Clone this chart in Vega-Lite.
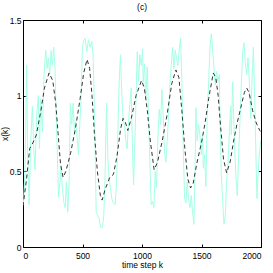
{
  "$schema": "https://vega.github.io/schema/vega-lite/v6.json",
  "autosize": {"type": "none"},
  "width": 238,
  "height": 227,
  "padding": {"left": 23, "top": 20, "right": 12, "bottom": 26},
  "background": "white",
  "title": {"text": "(c)", "fontSize": 8.5, "fontWeight": "normal", "font": "Liberation Sans", "anchor": "middle", "offset": 5, "color": "#000"},
  "config": {
    "view": {"stroke": "#000", "strokeWidth": 1},
    "axis": {"grid": false, "domain": false, "ticks": true, "tickSize": -3, "tickColor": "#000", "labelFont": "Liberation Sans", "labelFontSize": 8.5, "labelColor": "#000", "titleFont": "Liberation Sans", "titleFontSize": 8.5, "titleFontWeight": "normal", "titleColor": "#000"}
  },
  "datasets": {
    "noisy": [
      {"k":3,"v":0.28},{"k":17,"v":0.50},{"k":31,"v":1.20},{"k":39,"v":0.61},{"k":51,"v":0.28},{"k":65,"v":0.70},{"k":79,"v":0.93},{"k":90,"v":0.65},{"k":101,"v":0.51},{"k":115,"v":0.87},{"k":129,"v":1.00},{"k":138,"v":0.65},{"k":149,"v":0.98},{"k":163,"v":0.76},{"k":177,"v":1.14},{"k":191,"v":1.30},{"k":202,"v":1.18},{"k":213,"v":1.25},{"k":224,"v":1.14},{"k":236,"v":1.30},{"k":247,"v":1.20},{"k":258,"v":1.32},{"k":269,"v":1.18},{"k":278,"v":0.89},{"k":289,"v":0.61},{"k":298,"v":0.33},{"k":311,"v":0.43},{"k":320,"v":0.54},{"k":331,"v":0.39},{"k":342,"v":0.30},{"k":354,"v":0.26},{"k":365,"v":0.43},{"k":376,"v":0.23},{"k":387,"v":0.41},{"k":398,"v":0.95},{"k":410,"v":0.81},{"k":421,"v":0.95},{"k":432,"v":0.77},{"k":443,"v":0.83},{"k":455,"v":0.72},{"k":466,"v":0.61},{"k":477,"v":0.81},{"k":488,"v":0.98},{"k":499,"v":1.31},{"k":508,"v":1.36},
      {"k":522,"v":1.38},{"k":536,"v":1.29},{"k":550,"v":1.37},{"k":564,"v":1.32},{"k":578,"v":1.36},{"k":589,"v":1.27},{"k":598,"v":0.98},{"k":606,"v":0.65},{"k":615,"v":0.23},{"k":626,"v":0.21},{"k":640,"v":0.19},{"k":651,"v":0.13},{"k":668,"v":0.13},{"k":679,"v":0.21},{"k":690,"v":0.48},{"k":702,"v":0.95},{"k":713,"v":0.59},{"k":724,"v":0.45},{"k":735,"v":0.39},{"k":746,"v":0.32},{"k":760,"v":0.29},{"k":775,"v":0.28},{"k":786,"v":0.43},{"k":797,"v":0.74},{"k":808,"v":1.09},{"k":819,"v":1.27},{"k":831,"v":1.00},{"k":842,"v":0.83},{"k":853,"v":0.81},{"k":864,"v":0.70},{"k":875,"v":0.65},{"k":887,"v":0.83},{"k":898,"v":0.94},{"k":909,"v":1.05},{"k":920,"v":0.65},{"k":929,"v":0.41},{"k":937,"v":0.61},{"k":948,"v":0.92},{"k":960,"v":1.29},{"k":971,"v":1.09},{"k":982,"v":1.27},{"k":993,"v":1.20},{"k":1005,"v":1.31},
      {"k":1010,"v":1.09},{"k":1021,"v":1.21},{"k":1032,"v":0.98},{"k":1044,"v":1.19},{"k":1055,"v":0.87},{"k":1066,"v":0.56},{"k":1077,"v":0.28},{"k":1088,"v":0.30},{"k":1100,"v":0.26},{"k":1111,"v":0.50},{"k":1122,"v":0.39},{"k":1133,"v":0.70},{"k":1145,"v":0.91},{"k":1156,"v":0.81},{"k":1167,"v":1.04},{"k":1178,"v":0.87},{"k":1189,"v":0.63},{"k":1201,"v":0.56},{"k":1212,"v":0.70},{"k":1223,"v":0.87},{"k":1234,"v":1.07},{"k":1246,"v":1.20},{"k":1257,"v":1.32},{"k":1268,"v":1.18},{"k":1279,"v":1.30},{"k":1290,"v":1.25},{"k":1302,"v":1.20},{"k":1313,"v":1.31},{"k":1324,"v":1.38},{"k":1335,"v":1.09},{"k":1347,"v":0.65},{"k":1358,"v":0.32},{"k":1369,"v":0.29},{"k":1380,"v":0.43},{"k":1391,"v":0.32},{"k":1403,"v":0.26},{"k":1414,"v":0.34},{"k":1425,"v":0.23},{"k":1436,"v":0.15},{"k":1447,"v":0.56},{"k":1453,"v":0.92},{"k":1464,"v":0.70},{"k":1475,"v":0.81},{"k":1487,"v":0.74},{"k":1498,"v":0.61},{"k":1509,"v":0.74},
      {"k":1515,"v":0.52},{"k":1526,"v":0.61},{"k":1537,"v":0.40},{"k":1548,"v":0.87},{"k":1560,"v":1.09},{"k":1571,"v":1.31},{"k":1582,"v":1.41},{"k":1593,"v":1.31},{"k":1605,"v":1.18},{"k":1616,"v":1.07},{"k":1627,"v":1.16},{"k":1638,"v":1.09},{"k":1649,"v":1.14},{"k":1658,"v":0.76},{"k":1666,"v":0.48},{"k":1678,"v":0.30},{"k":1689,"v":0.15},{"k":1700,"v":0.21},{"k":1711,"v":0.43},{"k":1722,"v":0.54},{"k":1734,"v":0.76},{"k":1745,"v":0.93},{"k":1750,"v":0.74},{"k":1762,"v":1.09},{"k":1770,"v":0.87},{"k":1778,"v":0.67},{"k":1790,"v":0.45},{"k":1801,"v":0.34},{"k":1812,"v":0.61},{"k":1823,"v":0.83},{"k":1835,"v":1.09},{"k":1846,"v":1.29},{"k":1857,"v":1.35},{"k":1868,"v":1.22},{"k":1880,"v":1.14},{"k":1891,"v":1.25},{"k":1902,"v":1.09},{"k":1913,"v":0.85},{"k":1924,"v":1.09},{"k":1936,"v":1.32},{"k":1947,"v":0.98},{"k":1958,"v":0.59},{"k":1966,"v":0.32},{"k":1975,"v":0.48},{"k":1986,"v":0.61},{"k":1997,"v":0.70}
    ],
    "smooth": [
      {"k":0,"v":0.27},{"k":30,"v":0.45},{"k":56,"v":0.65},{"k":84,"v":0.69},{"k":112,"v":0.74},{"k":150,"v":0.90},{"k":180,"v":1.05},{"k":219,"v":1.15},{"k":250,"v":1.10},{"k":275,"v":0.95},{"k":295,"v":0.75},{"k":315,"v":0.55},{"k":337,"v":0.46},{"k":360,"v":0.50},{"k":400,"v":0.62},{"k":440,"v":0.78},{"k":480,"v":0.98},{"k":510,"v":1.15},{"k":538,"v":1.24},{"k":560,"v":1.18},{"k":580,"v":1.00},{"k":600,"v":0.75},{"k":625,"v":0.50},{"k":650,"v":0.34},{"k":665,"v":0.31},{"k":690,"v":0.38},{"k":729,"v":0.46},{"k":760,"v":0.48},{"k":790,"v":0.60},{"k":820,"v":0.78},{"k":841,"v":0.85},{"k":862,"v":0.82},{"k":881,"v":0.77},{"k":910,"v":0.85},{"k":950,"v":1.00},{"k":996,"v":1.10},{"k":1020,"v":1.05},{"k":1045,"v":0.90},{"k":1070,"v":0.70},{"k":1102,"v":0.51},{"k":1130,"v":0.56},{"k":1170,"v":0.70},{"k":1210,"v":0.87},{"k":1250,"v":1.08},{"k":1285,"v":1.17},{"k":1310,"v":1.12},{"k":1335,"v":0.90},{"k":1360,"v":0.65},{"k":1385,"v":0.45},{"k":1408,"v":0.39},{"k":1430,"v":0.42},{"k":1460,"v":0.55},{"k":1500,"v":0.69},{"k":1530,"v":0.82},{"k":1560,"v":0.98},{"k":1599,"v":1.15},{"k":1620,"v":1.12},{"k":1640,"v":1.00},{"k":1660,"v":0.80},{"k":1685,"v":0.58},{"k":1711,"v":0.49},{"k":1740,"v":0.56},{"k":1770,"v":0.70},{"k":1800,"v":0.82},{"k":1830,"v":0.92},{"k":1860,"v":1.02},{"k":1880,"v":1.05},{"k":1900,"v":1.02},{"k":1930,"v":0.90},{"k":1960,"v":0.82},{"k":1990,"v":0.77},{"k":2000,"v":0.76}
    ]
  },
  "layer": [
    {
      "data": {"name": "noisy"},
      "mark": {"type": "line", "color": "#a6ffe6", "strokeWidth": 1, "clip": true},
      "encoding": {
        "x": {"field": "k", "type": "quantitative", "scale": {"domain": [0, 2000], "nice": false}, "axis": {"title": "time step k", "values": [0, 500, 1000, 1500, 2000], "format": "d", "labelPadding": 7, "titlePadding": 1}},
        "y": {"field": "v", "type": "quantitative", "scale": {"domain": [0, 1.5], "nice": false, "zero": false}, "axis": {"title": "x(k)", "values": [0, 0.5, 1, 1.5], "format": "~g", "labelPadding": 5, "titlePadding": 0}}
      }
    },
    {
      "data": {"name": "smooth"},
      "mark": {"type": "line", "color": "#333333", "strokeWidth": 1, "strokeDash": [4, 3], "clip": true},
      "encoding": {
        "x": {"field": "k", "type": "quantitative", "axis": {"orient": "top", "title": null, "labels": false, "values": [0, 500, 1000, 1500, 2000]}},
        "y": {"field": "v", "type": "quantitative", "axis": {"orient": "right", "title": null, "labels": false, "values": [0, 0.5, 1, 1.5]}}
      }
    }
  ],
  "resolve": {"axis": {"x": "independent", "y": "independent"}}
}
